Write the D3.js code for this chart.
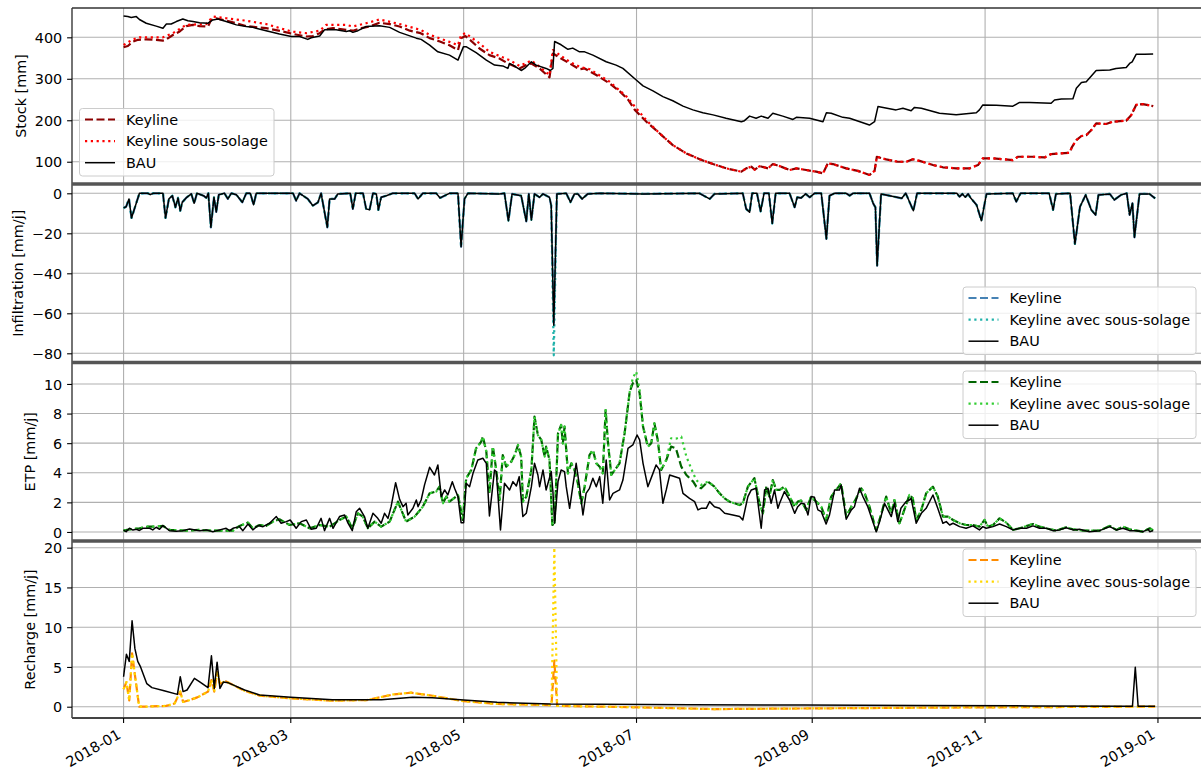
<!DOCTYPE html>
<html>
<head>
<meta charset="utf-8">
<script src="https://cdn.jsdelivr.net/npm/d3@7"></script>
<style>
  body { margin: 0; background: #fff; }
  svg text { font-family: "DejaVu Sans", sans-serif; font-size: 14.4px; fill: #000; }
</style>
</head>
<body>
<script>
// All series are [day, value] pairs, day counted from 2018-01-01.

// Stock [mm]
const stockBAU = [[0,451.5],[1.5,450],[2.7,448],[4.5,450],[5.6,443],[8,434],[11.5,427],[13.9,422],[15.1,432],[16.8,432],[18.6,438],[20.9,444],[22.7,440],[24.5,438],[26.8,435],[29.8,434],[31.5,442],[33.3,444],[36.2,438],[39.8,430],[43.3,426],[45.6,424],[50.3,416],[55,408],[59.2,402],[62.1,402],[65,395],[66.2,399],[69.2,403],[70.9,418],[72.7,419],[75,418],[78.6,414],[79.7,416],[80.9,412],[82.7,416],[85.6,426],[90.3,428],[93.9,424],[97.4,412],[103.3,398],[105,395],[108,381],[110.9,365],[115,357],[118,345],[119.9,377],[121,377],[124.4,363],[128,345],[130.9,333],[133.8,331],[135.6,325],[136.2,337],[137.4,333],[140.3,320],[141.5,325],[143.9,341],[145.6,333],[149.1,325],[150.6,320],[151.5,325],[152.1,390],[154.4,382],[156.8,371],[158.5,374],[160.9,365],[162.7,365],[165.6,357],[170.3,341],[173.8,333],[176.2,325],[180.9,297],[183.3,283],[186.8,271],[190.3,257],[193.8,247],[197.4,234],[200.9,225],[204.4,218],[208,213],[212.6,205],[218,196.5],[219.1,199],[220.9,210],[223.2,205],[225,210],[227.4,205],[229.1,217],[232.6,210],[236.2,202],[237.4,207],[242.1,205],[246.8,196.5],[248,218],[249.7,217],[253.8,207],[256.2,205],[263.2,188.5],[265,196.5],[266.2,233],[272.6,225],[275,229],[277.9,223],[279.1,231],[281.5,229],[287.9,217],[293.8,213],[300.9,218],[302,225],[303.2,237],[308,236],[313.8,234],[316.2,243],[319.7,243],[327.3,241],[328.5,249],[330.9,251],[335,252],[336.2,277],[338,291],[339.7,293],[343.2,320],[348,321],[350.2,325],[353.8,327],[355,337],[355.9,341],[357.3,359],[360.3,359],[363.3,360]];
const stockKeyline = [[0,376],[1.5,379],[3.3,389.5],[5.1,394],[8,395],[11.5,394],[13.9,392],[15.1,395],[17.4,405.6],[19.8,414],[22.1,427],[24.5,430],[26.8,427],[29.8,426],[30.9,442],[32.7,446],[36.2,440],[39.8,434],[43.3,427],[50.3,422],[56.2,414],[59.8,408],[64.5,402],[66.8,403],[69.2,410],[70.9,419],[73.9,422],[78.6,418],[80.9,416],[83.9,422],[86.8,426],[90.3,435],[93.9,432],[97.4,426],[101,416],[104.8,410],[108,398],[111.6,390],[115,381],[118,369],[119.1,398],[120.6,403],[122.2,394],[125.6,373],[129.1,357],[132.6,349],[135.6,337],[139.7,325],[142.1,333],[143.9,337],[146.8,325],[150.3,303.5],[151.5,361],[154.4,349],[157.4,337],[160.9,323],[162.7,325],[166.8,309],[171.5,289],[175.2,269],[178.1,249],[180.4,225],[184.5,196.5],[189.2,168],[193.8,140],[198.6,120],[203.3,106],[208,94.4],[212.7,84],[218,76],[219.7,84],[221.5,88],[222.7,81],[224.5,89.4],[227.4,84],[229.1,94.4],[231.5,89.4],[235,80],[237.4,84],[240.9,80],[244.4,76],[246.8,72],[248.5,96],[250.3,94.4],[255,84],[259.1,78],[263.2,68],[265,78],[265.8,112],[269.1,105.6],[273.2,100],[276.2,100],[278.5,106],[280.9,102],[285.6,92],[289.1,86.6],[293.8,84],[298.5,84],[301.5,92],[303.2,108],[306.8,108],[313.8,104],[315.6,112],[321,112],[325,110.4],[327.3,118.5],[333.8,121.6],[334.7,136],[336.2,152],[338,162],[339.7,164],[341.5,176.4],[343.2,192.5],[346.7,191],[349,196.5],[353.8,199],[355.6,212.5],[357.3,237],[359.7,239],[363.3,234]];
// sous-solage sits a little above Keyline until early July, then the two lines coincide
const stockSousSolageEarly = [[0,381.5],[3.3,395],[5.6,400],[13.9,400],[17.4,410],[22.1,430],[29.2,432],[31.5,450],[36.2,446],[43.3,440],[50.3,432],[59.2,414],[64.5,410],[69.2,416],[71.5,430],[78.6,430],[80.9,426],[85.6,434],[90.3,443],[97.4,432],[104.8,418],[108,406],[115,389],[118,381],[119.1,405.6],[120.6,410],[125.6,385.5],[129.1,365],[132.6,355],[136.2,345],[139.7,331],[143.9,344],[146.8,329],[150.3,309],[151.5,369.4],[154.4,355],[157.4,341],[160.9,329],[164.5,323],[171.5,293],[177.5,257],[180.4,233],[184.5,200]];

// Infiltration [mm/j] (Keyline lies on BAU everywhere)
const infilBAU = [[0,-7.3],[0.9,-6.7],[1.9,-2.8],[2.8,-12.3],[5.6,0],[8.6,0],[9.4,-0.7],[10.4,0],[13.9,0],[14.8,-12.3],[16,-2.8],[17.2,-1.2],[18.3,-7],[19.2,-2.3],[20,-8.7],[20.7,-4.5],[22.3,-2],[23.9,-0.3],[24.9,-5],[25.9,0],[28.2,-1.2],[29.2,-2.3],[29.9,0],[30.8,-17],[31.9,-2],[32.7,-9.3],[33.6,-0.7],[35.6,0],[36.8,-2.8],[38,0],[39.8,-0.7],[41.9,-4.5],[43.3,0],[44.7,0],[45.9,-5.7],[46.8,0],[59.8,0],[60.9,-3.7],[62.1,0],[65,-2.8],[66.8,-6.2],[68.6,-4.5],[69.7,0],[71.9,-17],[72.7,-2.8],[74.5,-2.8],[75.6,-0.3],[80,0],[80.9,-7.8],[81.9,0],[84.5,0],[85.6,-7.8],[86.8,-8.3],[88,0],[89.2,-0.3],[89.9,-8.3],[90.9,-2],[92.7,-1.2],[95,0],[102.7,0],[103.9,-2.8],[105.6,0],[110.3,0],[111.7,-2.3],[113.3,-1.2],[115,0],[118,0],[119.1,-26.7],[120.3,-2.8],[121.5,0],[132.7,-0.3],[134.4,0],[135.8,-13.7],[137.1,-0.3],[140.3,-1.2],[142.1,-14],[143,-0.3],[143.9,-13.3],[145,-0.3],[146.8,-2],[148,-0.3],[150.3,-2],[150.9,-6.2],[151.8,-66],[152.9,-0.3],[156.2,0],[157.7,-4.5],[159.1,-0.3],[160.3,-0.3],[161.8,-2.8],[163.8,-0.3],[168,0],[183.4,-0.3],[203.2,0],[206.8,-2.8],[208.5,-0.3],[218.5,0],[219.7,-7.8],[220.9,-9.5],[221.8,0],[223.5,0],[224.8,-9],[226,0],[227.7,0],[228.9,-15],[230.1,0],[235,0],[236.8,-7],[237.7,-2],[239.1,-2.3],[240.7,-0.3],[242.1,-2],[243.8,0],[246.2,0],[248,-22.8],[249.1,-1.2],[250.9,0],[255,0],[256.2,-1.2],[257.4,0],[263.2,0],[264.6,-5.3],[265.3,-7],[265.9,-36.2],[267.3,-0.3],[274.6,-2.5],[276,0],[278.7,-8.7],[280,0],[294,0],[295,-1.7],[296,-0.3],[297,-2],[298,-0.3],[299,-2.5],[301,-5.8],[302.7,-13.7],[304.5,-0.3],[313.8,0],[315,-4.2],[316.5,0],[326.6,0],[328,-8.3],[329,-0.3],[334,0],[335.7,-25.3],[337.5,-6.7],[339.5,-0.8],[341.5,-8.3],[343,-10.8],[344,-0.8],[348,-0.3],[349.6,-3.3],[352,-0.8],[354,0],[355,-10.8],[356,-5],[356.7,-22],[358.5,-0.3],[362,-0.3],[364,-2.5]];
const infilSousSolagePeak = [[151.8,-81]];

// ETP [mm/j]
const etpBAU = [[0,0.13],[0.9,0.02],[2.1,0.25],[3.3,0.13],[4.5,0.18],[5.6,0.1],[6.8,0.25],[9.2,0.25],[10.3,0.14],[11.5,0.32],[12.7,0.18],[13.9,0.43],[16.2,0.09],[18.6,0.05],[20.9,0.09],[23.3,0.2],[26.8,0.09],[29.2,0.14],[31.5,0.02],[33.9,0.14],[36.2,0.25],[37.4,0.09],[38.6,0.25],[40.9,0.36],[42.1,0.09],[43.9,0.54],[45.6,0.14],[47.4,0.43],[49.2,0.36],[51.5,0.59],[53.9,1.04],[55.6,0.59],[57.4,0.7],[58.8,0.81],[60.9,0.25],[62.7,0.7],[64.5,0.81],[66.2,0.18],[68,0.25],[69.7,0.92],[70.9,0.09],[72.7,0.92],[73.9,0.25],[76.2,1.04],[78,1.15],[79.2,0.59],[80.7,0.09],[82.1,1.37],[83.3,1.6],[85,1.04],[86.2,0.25],[88,1.26],[89.7,0.92],[90.9,0.59],[92.1,1.26],[93.3,0.92],[94.4,1.71],[96,3.33],[97.4,2.2],[98.6,1.71],[99.7,1.94],[100.3,1.15],[102.1,1.6],[103.3,2.16],[103.9,1.71],[105,2.16],[106.2,3.18],[108,4.37],[109.7,3.85],[110.9,4.53],[112.1,2.39],[113.3,2.84],[114.4,2.5],[116,3.4],[116.8,2.95],[118,2.39],[119.1,0.63],[120,0.63],[120.9,3.29],[122.1,3.06],[123.3,3.96],[125,4.86],[126.8,4.98],[128,4.64],[129.1,1.08],[130.9,4.19],[131.5,4.08],[133,0.14],[134.4,3.29],[136.2,2.84],[137.4,3.4],[138.6,3.11],[139.6,3.74],[140.9,1.04],[142.1,1.26],[143.9,3.06],[145,4.64],[146.2,3.85],[146.8,3.06],[148,4.19],[149.1,2.84],[150.9,4.08],[151.5,2.73],[152.1,0.59],[153.3,3.4],[154.4,4.19],[155.6,4.08],[156.2,3.06],[157.4,1.6],[158.5,3.06],[159.7,4.64],[160.9,3.06],[162.1,1.15],[163.2,2.61],[164.4,2.95],[165.6,3.63],[166.8,3.06],[168,3.74],[169.1,1.94],[170.3,4.86],[171.5,2.16],[172.7,2.61],[175,2.84],[176.2,3.51],[178,5.65],[179.7,5.88],[181.2,6.55],[182.1,6.22],[183.3,4.64],[185,3.06],[186.8,3.96],[187.9,4.53],[189.1,4.19],[190.3,1.94],[191.5,2.84],[192.7,3.85],[196.2,3.63],[197.4,2.61],[199.7,2.27],[201.5,2.05],[202.7,1.49],[203.8,1.6],[205.6,1.6],[206.8,2.05],[208.5,1.71],[210.3,1.6],[212.1,1.26],[215,1.15],[217.4,1.04],[218.5,0.81],[220.3,2.39],[221.5,2.84],[223.2,2.95],[225,0.25],[226.2,2.84],[227.4,2.95],[228.5,1.94],[229.7,2.84],[230.9,1.6],[231.5,1.94],[233.2,2.73],[235,2.16],[236.8,1.26],[237.9,1.71],[239.1,1.94],[240.3,1.89],[241.5,1.15],[242.6,2.39],[243.8,2.34],[245,1.49],[246.2,1.37],[247.9,0.54],[249.1,1.15],[250.9,2.84],[252.6,2.84],[253.2,3.18],[255,0.86],[256.8,1.49],[257.9,1.71],[259.7,2.95],[260.9,2.39],[262.6,1.71],[265.6,0.02],[266.8,0.7],[268.5,1.94],[269.7,1.49],[270.9,1.04],[272,1.94],[273.2,0.7],[274.3,1.6],[276.1,2.05],[277.3,2.16],[277.9,2.27],[279.7,0.59],[281.5,1.26],[283.2,1.6],[285.6,2.5],[287.3,1.6],[289.1,0.59],[290.3,0.7],[291.5,0.47],[292.7,0.59],[295,0.36],[297.3,0.25],[299.7,0.41],[302,0.14],[303.2,0.36],[304.4,0.25],[306.8,0.36],[309.1,0.54],[311.5,0.36],[313.8,0.14],[316.2,0.25],[318.6,0.25],[320.9,0.41],[323.2,0.25],[325.6,0.25],[327.9,0.09],[330.3,0.14],[332.6,0.29],[335,0.14],[337.3,0.18],[340.8,0.02],[344.4,0.09],[348,0.36],[350.3,0.14],[352.6,0.25],[355,0.09],[357.3,0.09],[359.7,0.02],[361.5,0.18],[362.1,0.02],[363.3,0.09]];
const etpKeyline = [[0,0.09],[2.1,0.18],[5.6,0.25],[8.6,0.36],[11.5,0.36],[13.9,0.41],[16.2,0.14],[22.1,0.09],[26.8,0.14],[31.5,0.09],[38.6,0.09],[40.9,0.41],[43.9,0.63],[45.6,0.25],[48,0.47],[50.3,0.41],[52.7,0.7],[55,0.86],[58.6,0.47],[62.1,0.59],[65.6,0.25],[69.2,0.47],[72.7,0.36],[76.2,0.81],[78.6,1.04],[80.7,0.25],[82.7,1.26],[84.4,1.04],[86.2,0.25],[88.6,0.7],[90.9,0.36],[93.9,0.7],[96.8,2.05],[99.7,0.7],[102.7,1.04],[105.6,1.71],[108,2.61],[110.3,2.73],[111.5,3.06],[112.7,1.94],[113.9,2.39],[115,2.05],[118,2.5],[119.7,0.81],[120.9,3.63],[122.7,4.19],[124.4,5.65],[126.2,6.1],[126.8,6.44],[128,5.43],[129.1,2.61],[130.3,5.77],[131.5,4.19],[132.7,2.16],[133.8,5.2],[135,4.41],[136.8,4.75],[138,5.2],[139.2,5.88],[140.3,5.09],[140.9,2.05],[142.1,2.39],[143.9,4.19],[145,7.79],[146.2,6.55],[147.4,6.22],[148.6,5.09],[149.1,5.77],[150.3,4.86],[151.3,0.47],[152.1,0.59],[153.3,6.67],[154.4,7.23],[155,5.99],[155.6,7.12],[156.8,3.96],[158,4.64],[159.1,4.19],[160.3,3.29],[161.5,1.94],[162.7,3.06],[164.4,5.2],[165.6,5.54],[166.8,4.64],[168,4.41],[169.1,3.96],[170.1,8.24],[170.9,6.1],[172.1,3.85],[175,4.64],[176.8,6.67],[178.6,9.48],[179.7,10.05],[180.9,10.27],[182.1,9.37],[183.3,7.12],[185,5.77],[186.2,5.99],[187.3,7.34],[188.5,6.22],[189.7,4.19],[191.5,4.86],[193.2,5.77],[194.9,5.65],[196.8,4.41],[198.6,3.85],[201,3.4],[202.1,3.06],[203.8,2.95],[206.2,3.4],[208.5,3.06],[210.3,2.61],[212.1,2.27],[213.8,2.05],[217.4,1.82],[218.5,1.94],[220.3,3.06],[222.6,3.63],[224.4,1.94],[225.6,1.26],[226.8,3.06],[227.9,2.39],[229.1,3.51],[230.3,2.84],[231.5,2.84],[233.2,3.06],[235,2.39],[236.8,1.71],[237.9,2.05],[239.1,2.12],[240.9,1.49],[242.6,2.39],[244.4,2.05],[246.2,1.71],[247.9,0.81],[249.7,2.39],[251.5,2.84],[253.2,3.29],[255,1.04],[256.8,1.71],[257.9,2.05],[260.3,2.95],[261.5,2.61],[263.2,1.71],[265.6,0.09],[267.4,1.26],[269.1,2.39],[270.9,1.26],[272,2.16],[273.8,0.59],[275.5,1.49],[277.3,2.5],[278.5,2.27],[279.7,0.81],[281.5,1.49],[283.2,2.61],[285.6,3.06],[287.3,2.39],[289.1,1.04],[290.9,1.04],[292.7,0.81],[295,0.59],[297.3,0.47],[299.7,0.47],[302,0.36],[303.8,0.81],[305,0.36],[306.8,0.47],[309.1,0.92],[311.5,0.63],[313.8,0.14],[316.2,0.25],[320.9,0.54],[323.2,0.36],[325.6,0.25],[329.1,0.09],[332.6,0.32],[335,0.18],[338.5,0.09],[344.4,0.09],[348,0.41],[350.3,0.14],[352.6,0.36],[355,0.18],[359.7,0.02],[362.1,0.25],[363.3,0.09]];
// sous-solage follows Keyline except at the July peak and the mid-July bump
const etpSousSolagePeak = [[179.7,10.4],[180.9,10.83],[182.1,9.6]];
const etpSousSolageBump = [[191.5,4.86],[193.2,6.33],[194.9,6.3],[196.8,6.44],[198.6,5.09],[201,3.96],[202.1,3.51],[203.8,3.18]];

// Recharge [mm/j]
const rechargeBAU = [[0,3.77],[1,6.6],[2,5.7],[3,10.8],[4,7.3],[5,5.7],[6,5.0],[8.2,2.9],[10,2.4],[14.3,2.0],[19,1.55],[20,3.77],[21,1.9],[22.4,2.1],[25,3.56],[27,3.1],[29.8,2.4],[31,6.4],[32,2.3],[33,5.6],[34,2.3],[35.2,3.1],[37,3.0],[42.7,2.1],[48,1.47],[59,1.2],[73.7,0.88],[91,0.88],[102,1.2],[109,1.13],[120,0.84],[131.8,0.55],[150.7,0.34],[168,0.3],[200,0.25],[240,0.2],[280,0.15],[320,0.1],[356,0.05],[357,4.95],[358,0.05],[364,0.05]];
const rechargeKeyline = [[0,2.2],[1,3.1],[2,0.8],[3,6.7],[4,4.0],[5.5,0],[7,0],[15,0.1],[18,0.4],[20,1.9],[21,0.6],[23,0.8],[26,1.17],[29.8,1.9],[31,3.35],[32,1.9],[33,4.4],[34,2.9],[36,3.2],[42.7,2.0],[48,1.4],[59,1.05],[73.7,0.75],[86,0.84],[95.3,1.55],[101.5,1.76],[109,1.38],[120,0.7],[131.8,0.34],[151,0.2],[152,5.8],[153,0.1],[170,0],[208.5,-0.3],[249,-0.2],[303,-0.08],[357,0],[364,0]];
const rechargeSousSolagePeak = [[152,20]];

// Tick values
const stockTicks = [100, 200, 300, 400];
const infilTicks = [0, -20, -40, -60, -80];
const etpTicks = [0, 2, 4, 6, 8, 10];
const rechargeTicks = [0, 5, 10, 15, 20];

// swap the points of a base series for the patch over the patch's day range
const patchSeries = (base, patch) => {
    const lo = patch[0][0], hi = patch[patch.length - 1][0];
    return base.filter(p => p[0] < lo || p[0] > hi).concat(patch).sort((a, b) => a[0] - b[0]);
};

const stockSousSolage = stockSousSolageEarly.concat(stockKeyline.filter(p => p[0] > 185));
const infilSousSolage = patchSeries(infilBAU, infilSousSolagePeak);
const etpSousSolage = patchSeries(patchSeries(etpKeyline, etpSousSolagePeak), etpSousSolageBump);
const rechargeSousSolage = patchSeries(rechargeKeyline, rechargeSousSolagePeak);

const width = 1201, height = 774;
const plotLeft = 72, plotRight = 1206.7;
const start = Date.UTC(2018, 0, 1);
const toDate = day => new Date(start + day * 864e5);

const x = d3.scaleUtc()
    .domain([toDate(-18.2), toDate(382.2)])
    .range([plotLeft, plotRight]);
const monthTicks = d3.utcMonth.every(2).range(new Date(Date.UTC(2018, 0, 1)), new Date(Date.UTC(2019, 0, 2)));

const DASHED = "8,3.5", DOTTED = "2.2,3.6";

const panels = [
    {top: 8, bottom: 184, domain: [46.3, 470.7], ticks: stockTicks, label: "Stock [mm]",
     legend: {x: 79.5, y: 108.5, w: 194.5},
     series: [
        {data: stockKeyline, color: "#8b0000", dash: DASHED, name: "Keyline"},
        {data: stockSousSolage, color: "#ff0000", dash: DOTTED, name: "Keyline sous-solage"},
        {data: stockBAU, color: "#000", dash: null, name: "BAU"}]},
    {top: 184, bottom: 362.5, domain: [-84.6, 4.65], ticks: infilTicks, label: "Infiltration [mm/j]",
     legend: {x: 963, y: 287, w: 233},
     series: [
        {data: infilBAU, color: "#4682b4", dash: DASHED, name: "Keyline"},
        {data: infilSousSolage, color: "#20b2aa", dash: DOTTED, name: "Keyline avec sous-solage"},
        {data: infilBAU, color: "#000", dash: null, name: "BAU"}]},
    {top: 362.5, bottom: 541, domain: [-0.61, 11.45], ticks: etpTicks, label: "ETP [mm/j]",
     legend: {x: 963, y: 371, w: 233},
     series: [
        {data: etpKeyline, color: "#006400", dash: DASHED, name: "Keyline"},
        {data: etpSousSolage, color: "#32cd32", dash: DOTTED, name: "Keyline avec sous-solage"},
        {data: etpBAU, color: "#000", dash: null, name: "BAU"}]},
    {top: 541, bottom: 718, domain: [-1.42, 20.84], ticks: rechargeTicks, label: "Recharge [mm/j]",
     legend: {x: 963, y: 549, w: 233},
     series: [
        {data: rechargeKeyline, color: "#ff8c00", dash: DASHED, name: "Keyline"},
        {data: rechargeSousSolage, color: "#ffd700", dash: DOTTED, name: "Keyline avec sous-solage"},
        {data: rechargeBAU, color: "#000", dash: null, name: "BAU"}]}
];

const svg = d3.select("body").append("svg")
    .attr("width", width)
    .attr("height", height);

const minusFormat = v => (v < 0 ? "\u2212" : "") + Math.abs(v);

panels.forEach((panel, i) => {
    const y = d3.scaleLinear().domain(panel.domain).range([panel.bottom, panel.top]);
    const g = svg.append("g");

    svg.append("clipPath").attr("id", "clip" + i)
        .append("rect")
        .attr("x", plotLeft).attr("y", panel.top)
        .attr("width", plotRight - plotLeft).attr("height", panel.bottom - panel.top);

    // grid
    g.selectAll(".hgrid").data(panel.ticks).join("line")
        .attr("x1", plotLeft).attr("x2", plotRight)
        .attr("y1", d => y(d)).attr("y2", d => y(d))
        .attr("stroke", "#b0b0b0").attr("stroke-width", 1.1);
    g.selectAll(".vgrid").data(monthTicks).join("line")
        .attr("x1", d => x(d)).attr("x2", d => x(d))
        .attr("y1", panel.top).attr("y2", panel.bottom)
        .attr("stroke", "#b0b0b0").attr("stroke-width", 1.1);

    // y axis
    const yAxis = g.append("g")
        .attr("transform", "translate(" + plotLeft + ",0)")
        .call(d3.axisLeft(y).tickValues(panel.ticks).tickFormat(minusFormat).tickSize(4.9).tickPadding(4.9));
    yAxis.select(".domain").remove();
    yAxis.selectAll("line").attr("stroke", "#000").attr("stroke-width", 1.1);
    yAxis.selectAll("text").attr("font-size", null).attr("font-family", null).attr("dy", "0.36em");

    const line = d3.line()
        .x(p => x(toDate(p[0])))
        .y(p => y(p[1]));

    const lines = g.append("g").attr("clip-path", "url(#clip" + i + ")");
    panel.series.forEach(s => {
        lines.append("path")
            .attr("d", line(s.data))
            .attr("fill", "none")
            .attr("stroke", s.color)
            .attr("stroke-width", s.dash ? 2.2 : 1.5)
            .attr("stroke-dasharray", s.dash)
            .attr("stroke-linejoin", "round");
    });

    // y label, left of the tick labels
    const labelsBox = yAxis.node().getBBox();
    g.append("text")
        .attr("transform", "translate(" + (plotLeft + labelsBox.x - 9.2) + "," + ((panel.top + panel.bottom) / 2) + ") rotate(-90)")
        .attr("text-anchor", "middle")
        .text(panel.label);

    panel.y = y;
    panel.g = g;
});

// frames: left spine, heavy grey top/bottom spines
const frame = svg.append("g");
frame.append("line")
    .attr("x1", plotLeft).attr("x2", plotLeft).attr("y1", 8).attr("y2", 718)
    .attr("stroke", "#000").attr("stroke-width", 1.1);
frame.append("line")
    .attr("x1", plotLeft).attr("x2", width).attr("y1", 8).attr("y2", 8)
    .attr("stroke", "#333").attr("stroke-width", 1.3);
[184, 362.5, 541].forEach(yy => frame.append("line")
    .attr("x1", plotLeft).attr("x2", width).attr("y1", yy).attr("y2", yy)
    .attr("stroke", "#555").attr("stroke-width", 3.5));
frame.append("line")
    .attr("x1", plotLeft).attr("x2", width).attr("y1", 718).attr("y2", 718)
    .attr("stroke", "#444").attr("stroke-width", 2.2);

// x axis on the bottom panel
const xAxis = svg.append("g");
monthTicks.forEach(d => {
    const tx = x(d);
    xAxis.append("line")
        .attr("x1", tx).attr("x2", tx).attr("y1", 718).attr("y2", 722.9)
        .attr("stroke", "#000").attr("stroke-width", 1.1);
    xAxis.append("text")
        .attr("transform", "translate(" + (tx - 1.7) + ",737.5) rotate(-30)")
        .attr("text-anchor", "end")
        .text(d3.utcFormat("%Y-%m")(d));
});

// legends
panels.forEach(panel => {
    const lg = svg.append("g");
    const L = panel.legend;
    lg.append("rect")
        .attr("x", L.x).attr("y", L.y).attr("width", L.w).attr("height", 67.5)
        .attr("rx", 3)
        .attr("fill", "#fff").attr("fill-opacity", 0.8)
        .attr("stroke", "#cccccc").attr("stroke-width", 1);
    panel.series.forEach((s, k) => {
        const ey = L.y + 11 + k * 21.6;
        lg.append("line")
            .attr("x1", L.x + 5.5).attr("x2", L.x + 35.5)
            .attr("y1", ey).attr("y2", ey)
            .attr("stroke", s.color)
            .attr("stroke-width", s.dash ? 2.2 : 1.5)
            .attr("stroke-dasharray", s.dash);
        lg.append("text")
            .attr("x", L.x + 46.5).attr("y", ey)
            .attr("dy", "0.36em")
            .text(s.name);
    });
});
</script>
</body>
</html>
